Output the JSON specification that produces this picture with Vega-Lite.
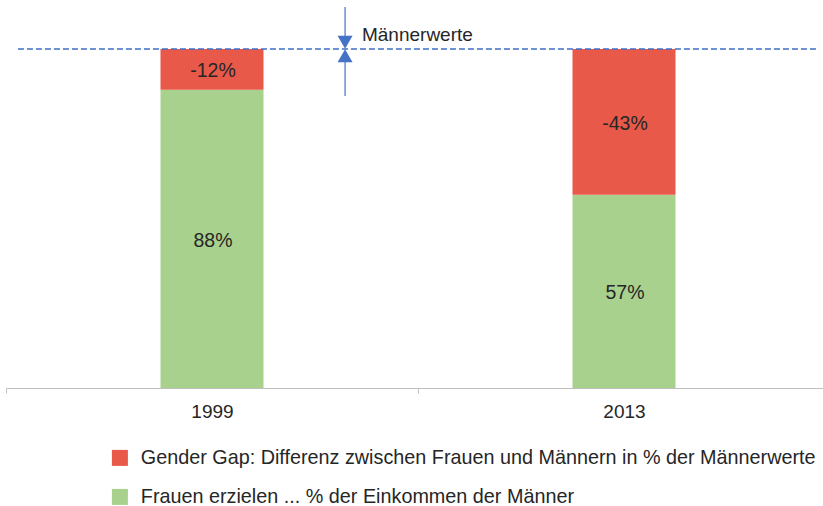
{
  "$schema": "https://vega.github.io/schema/vega-lite/v6.json",
  "width": 817,
  "height": 339,
  "autosize": "none",
  "padding": {"left": 6, "top": 49, "right": 0, "bottom": 118},
  "config": {
    "view": {"stroke": null},
    "font": "Liberation Sans"
  },
  "datasets": {
    "gap": [
      {"year": "1999", "category": "Frauen erzielen ... % der Einkommen der Männer", "value": 0.88, "label": "88%"},
      {"year": "1999", "category": "Gender Gap: Differenz zwischen Frauen und Männern in % der Männerwerte", "value": 0.12, "label": "-12%"},
      {"year": "2013", "category": "Frauen erzielen ... % der Einkommen der Männer", "value": 0.57, "label": "57%"},
      {"year": "2013", "category": "Gender Gap: Differenz zwischen Frauen und Männern in % der Männerwerte", "value": 0.43, "label": "-43%"}
    ]
  },
  "resolve": {"scale": {"x": "independent"}, "axis": {"x": "independent"}},
  "layer": [
    {
      "data": {"name": "gap"},
      "layer": [
        {
          "mark": {"type": "bar", "width": {"band": 0.25}},
          "encoding": {
            "x": {
              "field": "year", "type": "nominal",
              "scale": {"range": [0, 824], "paddingInner": 0, "paddingOuter": 0},
              "axis": {
                "title": null, "labelAngle": 0, "labelFontSize": 19, "labelColor": "#262626",
                "domainColor": "#bfbfbf", "tickColor": "#bfbfbf", "tickSize": 5, "labelPadding": 9,
                "tickBand": "extent"
              }
            },
            "y": {
              "field": "value", "type": "quantitative", "stack": "zero",
              "scale": {"domain": [0, 1], "nice": false}, "axis": null
            },
            "color": {
              "field": "category", "type": "nominal",
              "scale": {
                "domain": ["Gender Gap: Differenz zwischen Frauen und Männern in % der Männerwerte", "Frauen erzielen ... % der Einkommen der Männer"],
                "range": ["#E8594A", "#A9D18E"]
              },
              "legend": {
                "orient": "none", "legendX": 104, "legendY": 399, "title": null,
                "symbolType": "square", "symbolSize": 256, "symbolStrokeWidth": 0,
                "labelFontSize": 19.8, "labelColor": "#262626", "labelOffset": 11, "rowPadding": 18,
                "labelLimit": 800
              }
            },
            "order": {"field": "value", "type": "quantitative", "sort": "descending"}
          }
        },
        {
          "transform": [
            {"stack": "value", "groupby": ["year"], "sort": [{"field": "value", "order": "descending"}], "as": ["y0", "y1"]},
            {"fold": ["y0", "y1"], "as": ["end", "pos"]},
            {"aggregate": [{"op": "mean", "field": "pos", "as": "mid"}], "groupby": ["year", "label"]}
          ],
          "mark": {"type": "text", "fontSize": 19.5, "color": "#262626", "baseline": "middle", "dy": 2, "dx": 1},
          "encoding": {
            "x": {"field": "year", "type": "nominal"},
            "y": {"field": "mid", "type": "quantitative"},
            "text": {"field": "label"}
          }
        }
      ]
    },
    {
      "data": {"values": [{}]},
      "layer": [
        {
          "mark": {"type": "rule", "color": "#3F6FC6", "strokeDash": [6, 3], "strokeWidth": 1.3},
          "encoding": {
            "x": {"datum": 0.029, "type": "quantitative", "scale": {"domain": [0, 2], "range": [0, 824]}, "axis": null},
            "x2": {"datum": 1.971},
            "y": {"datum": 1, "type": "quantitative"}
          }
        },
        {
          "mark": {"type": "rule", "color": "#4472C4", "strokeWidth": 1.2},
          "encoding": {
            "x": {"datum": 0.823, "type": "quantitative"},
            "y": {"datum": 1.124, "type": "quantitative"},
            "y2": {"datum": 1.03}
          }
        },
        {
          "mark": {"type": "rule", "color": "#4472C4", "strokeWidth": 1.2},
          "encoding": {
            "x": {"datum": 0.823, "type": "quantitative"},
            "y": {"datum": 0.97, "type": "quantitative"},
            "y2": {"datum": 0.861}
          }
        },
        {
          "mark": {"type": "point", "shape": "triangle-down", "filled": true, "color": "#4472C4", "size": 225, "opacity": 1},
          "encoding": {
            "x": {"datum": 0.823, "type": "quantitative"},
            "y": {"datum": 1.02, "type": "quantitative"}
          }
        },
        {
          "mark": {"type": "point", "shape": "triangle-up", "filled": true, "color": "#4472C4", "size": 225, "opacity": 1},
          "encoding": {
            "x": {"datum": 0.823, "type": "quantitative"},
            "y": {"datum": 0.98, "type": "quantitative"}
          }
        },
        {
          "mark": {"type": "text", "text": "Männerwerte", "align": "left", "baseline": "middle", "fontSize": 19, "color": "#262626"},
          "encoding": {
            "x": {"datum": 0.864, "type": "quantitative"},
            "y": {"datum": 1.04, "type": "quantitative"}
          }
        }
      ]
    }
  ]
}
